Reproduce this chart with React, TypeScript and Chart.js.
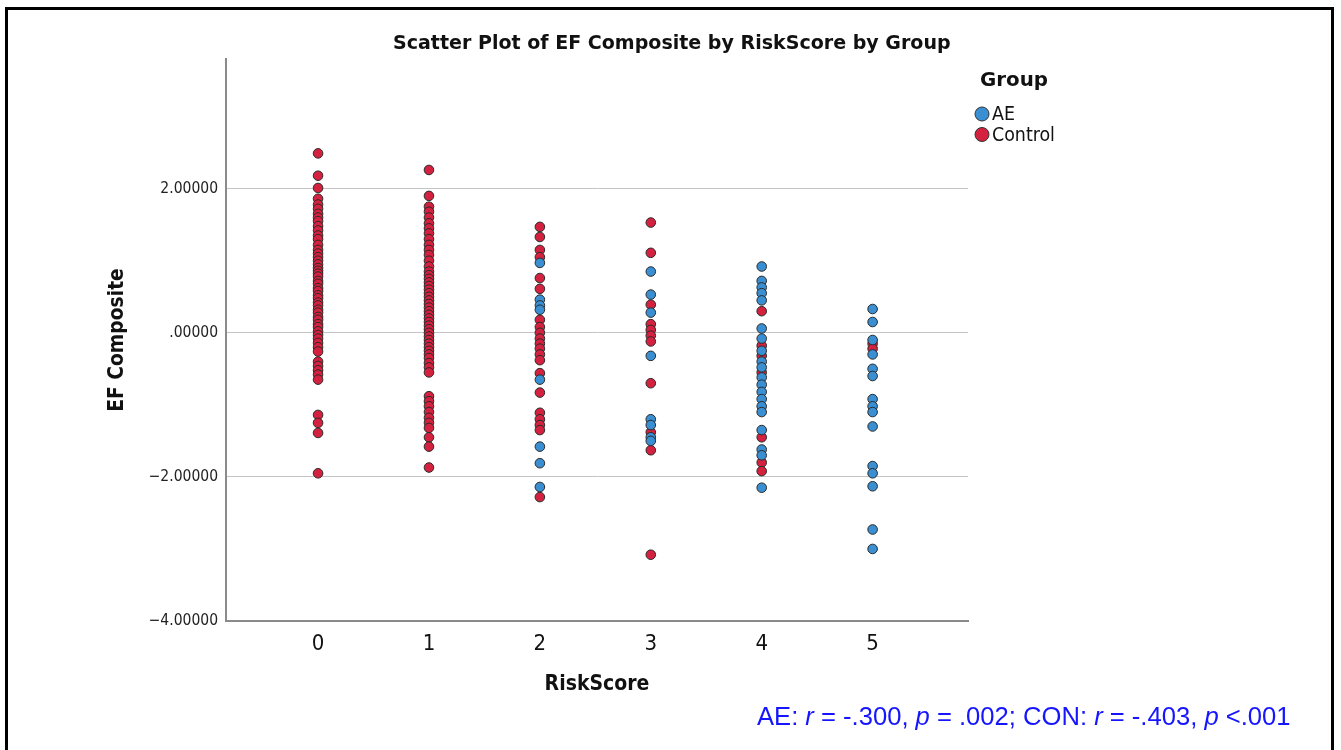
import React, { useEffect, useRef } from "react";
import { Chart, registerables } from "chart.js";

Chart.register(...registerables);

// Risk score categories on the x axis
const riskScores = [0, 1, 2, 3, 4, 5];
const xTicks = [0, 1, 2, 3, 4, 5];
const yTicks = [-4, -2, 0, 2];

// EF Composite values for the AE group, per risk score
const ae0: number[] = [];
const ae1: number[] = [];
const ae2 = [0.97, 0.46, 0.38, 0.32, -0.65, -1.58, -1.81, -2.14];
const ae3 = [0.85, 0.53, 0.28, -0.32, -1.2, -1.28, -1.45, -1.5];
const ae4 = [0.92, 0.72, 0.63, 0.55, 0.45, 0.06, -0.08, -0.25, -0.4, -0.48, -0.62, -0.72, -0.82, -0.92, -1.02, -1.1, -1.35, -1.62, -1.7, -2.15];
const ae5 = [0.33, 0.15, -0.1, -0.3, -0.5, -0.6, -0.92, -1.02, -1.1, -1.3, -1.85, -1.95, -2.13, -2.73, -3.0];

// EF Composite values for the Control group, per risk score
const con0 = [2.49, 2.18, 2.01, 1.86, 1.78, 1.72, 1.65, 1.6, 1.55, 1.48, 1.42, 1.35, 1.3, 1.22, 1.15, 1.1, 1.05, 1.0, 0.95, 0.9, 0.86, 0.82, 0.78, 0.72, 0.68, 0.62, 0.58, 0.52, 0.48, 0.42, 0.38, 0.32, 0.28, 0.22, 0.18, 0.12, 0.08, 0.02, -0.03, -0.08, -0.14, -0.2, -0.26, -0.4, -0.46, -0.52, -0.58, -0.65, -1.14, -1.25, -1.39, -1.95];
const con1 = [2.26, 1.9, 1.75, 1.68, 1.6, 1.52, 1.45, 1.38, 1.3, 1.22, 1.15, 1.08, 1.0, 0.92, 0.85, 0.8, 0.75, 0.7, 0.65, 0.6, 0.55, 0.5, 0.45, 0.4, 0.35, 0.3, 0.25, 0.2, 0.15, 0.1, 0.05, 0.0, -0.05, -0.1, -0.15, -0.2, -0.25, -0.3, -0.35, -0.42, -0.48, -0.55, -0.88, -0.95, -1.02, -1.1, -1.18, -1.25, -1.32, -1.45, -1.58, -1.87];
const con2 = [1.47, 1.33, 1.15, 1.05, 0.76, 0.61, 0.18, 0.08, 0.0, -0.08, -0.15, -0.22, -0.3, -0.38, -0.56, -0.83, -1.11, -1.2, -1.28, -1.35, -2.28];
const con3 = [1.53, 1.11, 0.39, 0.12, 0.04, -0.04, -0.12, -0.7, -1.38, -1.63, -3.08];
const con4 = [0.3, -0.18, -0.32, -0.55, -1.45, -1.8, -1.92];
const con5 = [-0.15, -0.22];

const aeByScore = [ae0, ae1, ae2, ae3, ae4, ae5];
const conByScore = [con0, con1, con2, con3, con4, con5];

const groupLabels = ["AE", "Control"];
const groupColors = ["#3a8fd3", "#d3213f"];

const toPoints = (byScore: number[][]) =>
  riskScores.flatMap((s, i) => byScore[i].map((v) => ({ x: s, y: v })));

const condensed = '"DejaVu Sans Condensed", "DejaVu Sans", sans-serif';
const sans = '"DejaVu Sans", sans-serif';

// Pick a font size so that the text spans the given width
function fitFont(ctx: CanvasRenderingContext2D, text: string, style: string, family: string, width: number) {
  ctx.font = `${style} 20px ${family}`;
  const w = ctx.measureText(text).width;
  const size = (20 * width) / w;
  ctx.font = `${style} ${size}px ${family}`;
  return size;
}

const overlayPlugin = {
  id: "overlay",
  afterDraw(chart: any) {
    const ctx = chart.ctx as CanvasRenderingContext2D;
    const area = chart.chartArea;
    ctx.save();
    ctx.fillStyle = "#111";
    ctx.textBaseline = "middle";

    // Title
    ctx.textAlign = "left";
    const title = "Scatter Plot of EF Composite by RiskScore by Group";
    fitFont(ctx, title, "bold", sans, 558);
    ctx.fillText(title, 393, 44);

    // Axis titles
    ctx.textAlign = "center";
    ctx.font = `bold 21px ${condensed}`;
    ctx.fillText("RiskScore", (area.left + area.right) / 2, 685);
    ctx.save();
    ctx.translate(118, (area.top + area.bottom) / 2);
    ctx.rotate(-Math.PI / 2);
    ctx.font = `bold 20.8px ${condensed}`;
    ctx.fillText("EF Composite", 0, 0);
    ctx.restore();

    // Legend
    ctx.textAlign = "left";
    fitFont(ctx, "Group", "bold", sans, 68);
    ctx.fillText("Group", 980, 81);
    const labSize = fitFont(ctx, "Control", "", condensed, 63);
    ctx.font = `${labSize}px ${condensed}`;
    groupLabels.forEach((lab, i) => {
      const cy = 114 + i * 20.5;
      ctx.beginPath();
      ctx.arc(982, cy, 7, 0, Math.PI * 2);
      ctx.fillStyle = groupColors[i];
      ctx.fill();
      ctx.lineWidth = 1;
      ctx.strokeStyle = "#333";
      ctx.stroke();
      ctx.fillStyle = "#111";
      ctx.fillText(lab, 992, cy + 1);
    });

    // Correlation note
    const segs: [string, boolean][] = [
      ["AE: ", false], ["r", true], [" = -.300, ", false], ["p", true], [" = .002; CON: ", false],
      ["r", true], [" = -.403, ", false], ["p", true], [" <.001", false],
    ];
    const size = 25.6;
    let x = 757;
    ctx.fillStyle = "#1515ff";
    segs.forEach(([t, it]) => {
      ctx.font = `${it ? "italic " : ""}${size}px "Liberation Sans", Arial, sans-serif`;
      ctx.fillText(t, x, 718);
      x += ctx.measureText(t).width;
    });
    ctx.restore();
  },
};

export default function App() {
  const canvasRef = useRef<HTMLCanvasElement | null>(null);

  useEffect(() => {
    const canvas = canvasRef.current;
    if (!canvas) return;
    const chart = new Chart(canvas, {
      type: "scatter",
      data: {
        datasets: [
          {
            label: groupLabels[0],
            data: toPoints(aeByScore),
            backgroundColor: groupColors[0],
            borderColor: "#2a2a2a",
            borderWidth: 1,
            pointRadius: 4.8,
          },
          {
            label: groupLabels[1],
            data: toPoints(conByScore),
            backgroundColor: groupColors[1],
            borderColor: "#2a2a2a",
            borderWidth: 1,
            pointRadius: 4.8,
          },
        ],
      },
      options: {
        responsive: false,
        animation: false,
        layout: { padding: { left: 0, top: 59, right: 373, bottom: 0 } },
        plugins: { legend: { display: false }, tooltip: { enabled: false }, title: { display: false } },
        scales: {
          x: {
            type: "linear",
            min: -0.83,
            max: 5.86,
            afterFit: (s: any) => { s.height = 129; },
            afterBuildTicks: (s: any) => { s.ticks = xTicks.map((v) => ({ value: v })); },
            grid: { display: false, drawTicks: false },
            border: { display: true, color: "#8a8a8a", width: 2 },
            ticks: {
              padding: 10,
              color: "#111",
              font: { family: condensed, size: 22 },
              callback: (v: any) => String(v),
            },
          },
          y: {
            type: "linear",
            min: -4,
            max: 3.8,
            afterFit: (s: any) => { s.width = 226; },
            afterBuildTicks: (s: any) => { s.ticks = yTicks.map((v) => ({ value: v })); },
            grid: {
              drawTicks: false,
              color: (c: any) => (c.tick && c.tick.value === -4 ? "rgba(0,0,0,0)" : "#c4c4c4"),
              lineWidth: 1,
            },
            border: { display: true, color: "#8a8a8a", width: 2 },
            ticks: {
              padding: 8,
              color: "#222",
              font: { family: condensed, size: 15.5 },
              callback: (v: any) => {
                const n = Number(v);
                if (n === 0) return ".00000";
                return (n < 0 ? "\u2212" : "") + Math.abs(n).toFixed(5);
              },
            },
          },
        },
      },
      plugins: [overlayPlugin],
    });
    return () => chart.destroy();
  }, []);

  return (
    <div style={{ position: "fixed", left: 0, top: 0, width: 1341, height: 750, overflow: "hidden", background: "#fff" }}>
      <canvas ref={canvasRef} width={1341} height={750} style={{ position: "absolute", left: 0, top: 0 }} />
      <div
        style={{
          position: "absolute",
          left: 5,
          top: 7,
          width: 1329,
          height: 760,
          border: "3px solid #000",
          boxSizing: "border-box",
          pointerEvents: "none",
        }}
      />
    </div>
  );
}
